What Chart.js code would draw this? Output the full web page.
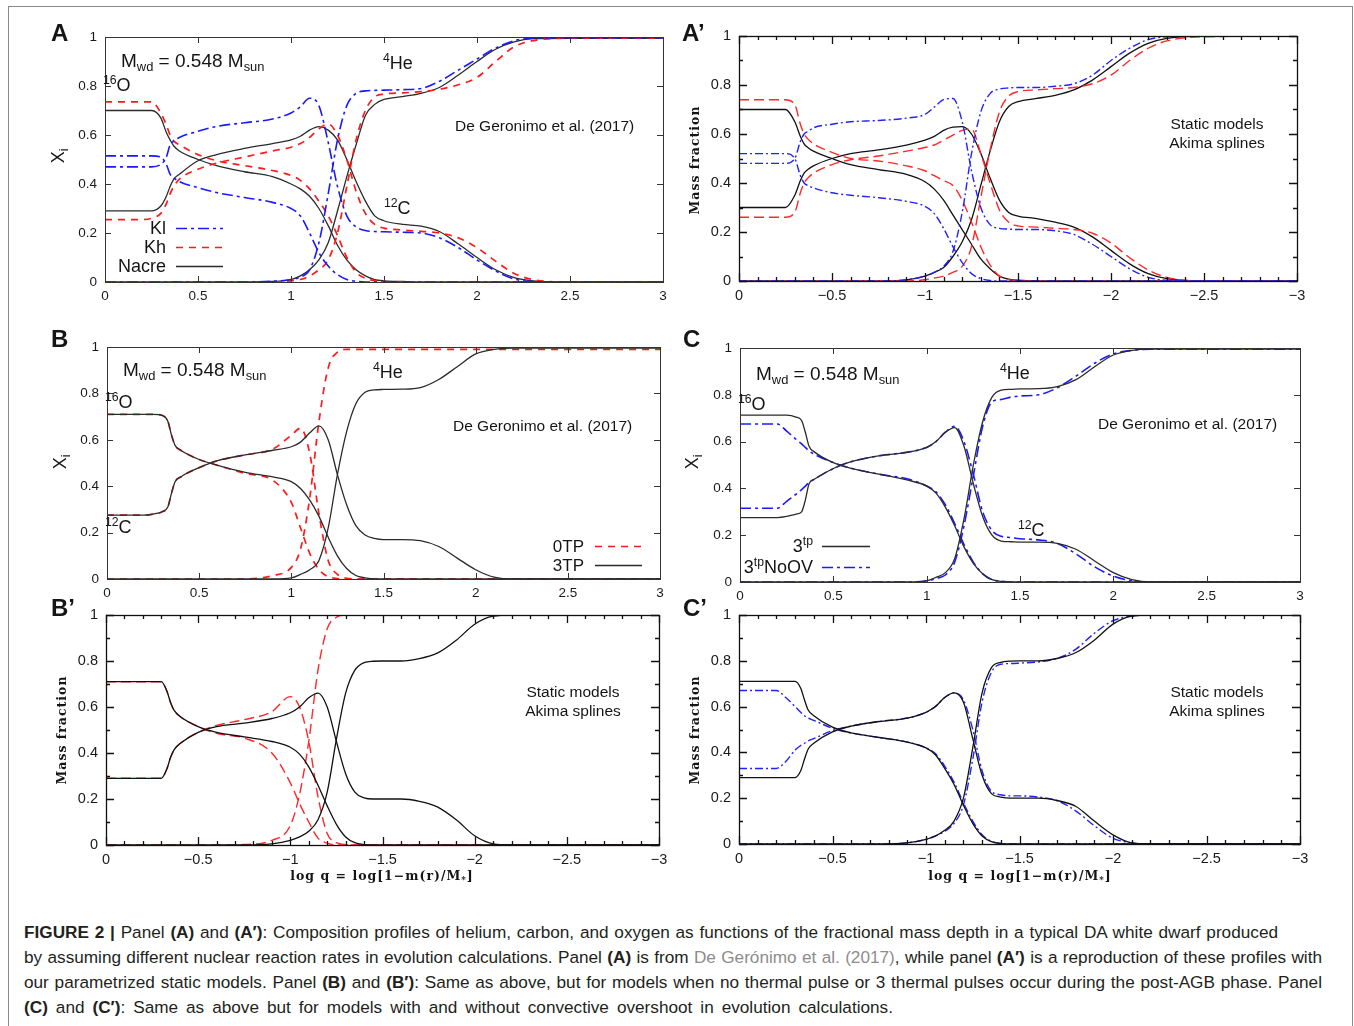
<!DOCTYPE html>
<html>
<head>
<meta charset="utf-8">
<script src="https://cdn.jsdelivr.net/npm/chart.js@4.4.1/dist/chart.umd.min.js"></script>
<style>
  body { margin: 0; background: #fff; width: 1354px; height: 1026px; overflow: hidden; position: relative;
         font-family: 'Liberation Sans', Arial, sans-serif; color: #151515; }
  #frame { position: absolute; left: 8px; top: 6px; width: 1343px; height: 1040px; border: 1px solid #8a8a8a; }
  canvas { position: absolute; }
  .t { position: absolute; white-space: nowrap; line-height: 1; transform: translateY(-50%); }
  .r { transform: translate(-100%, -50%); }
  .c { transform: translate(-50%, -50%); }
  .rot { transform: translate(-50%, -50%) rotate(-90deg); }
  .b { font-weight: bold; }
  .sm { font-family: 'DejaVu Serif', serif; font-weight: bold; font-size: 12.5px; letter-spacing: 1px; }
  sub, sup { font-size: 0.68em; position: relative; vertical-align: baseline; line-height: 0; }
  sub { top: 0.32em; }
  sup { top: -0.55em; }
  .cap { position: absolute; left: 24px; font-size: 17.2px; line-height: 20px; height: 20px; color: #231f20;
         text-align: justify; text-align-last: justify; transform: translateY(-50%); }
  .cap b { font-weight: bold; }
  .link { color: #8c8c8c; }
</style>
</head>
<body>
<div id="frame"></div>

<canvas id="cA"></canvas>
<canvas id="cAp"></canvas>
<canvas id="cB"></canvas>
<canvas id="cC"></canvas>
<canvas id="cBp"></canvas>
<canvas id="cCp"></canvas>

<!-- panel A -->
<div class="t b" style="left:51px;top:33px;font-size:24px">A</div>
<div class="t rot" style="left:58px;top:156px;font-size:18px">X<sub>i</sub></div>
<div class="t" style="left:121px;top:60px;font-size:19px">M<sub>wd</sub> = 0.548 M<sub>sun</sub></div>
<div class="t" style="left:103px;top:85px;font-size:18px"><sup>16</sup>O</div>
<div class="t" style="left:383px;top:63px;font-size:18px"><sup>4</sup>He</div>
<div class="t" style="left:455px;top:126px;font-size:15.5px">De Geronimo et al. (2017)</div>
<div class="t" style="left:384px;top:208px;font-size:18px"><sup>12</sup>C</div>
<div class="t r" style="left:166px;top:228px;font-size:18px">Kl</div>
<div class="t r" style="left:166px;top:247px;font-size:18px">Kh</div>
<div class="t r" style="left:166px;top:266px;font-size:18px">Nacre</div>

<!-- panel A' -->
<div class="t b" style="left:682px;top:33px;font-size:24px">A’</div>
<div class="t rot sm" style="left:695px;top:160px">Mass fraction</div>
<div class="t c" style="left:1217px;top:124px;font-size:15.5px">Static models</div>
<div class="t c" style="left:1217px;top:143px;font-size:15.5px">Akima splines</div>

<!-- panel B -->
<div class="t b" style="left:51px;top:339px;font-size:24px">B</div>
<div class="t rot" style="left:60px;top:462px;font-size:18px">X<sub>i</sub></div>
<div class="t" style="left:123px;top:369px;font-size:19px">M<sub>wd</sub> = 0.548 M<sub>sun</sub></div>
<div class="t" style="left:373px;top:372px;font-size:18px"><sup>4</sup>He</div>
<div class="t" style="left:105px;top:402px;font-size:18px"><sup>16</sup>O</div>
<div class="t" style="left:105px;top:527px;font-size:18px"><sup>12</sup>C</div>
<div class="t" style="left:453px;top:426px;font-size:15.5px">De Geronimo et al. (2017)</div>
<div class="t r" style="left:584px;top:546px;font-size:17px">0TP</div>
<div class="t r" style="left:584px;top:565px;font-size:17px">3TP</div>

<!-- panel C -->
<div class="t b" style="left:683px;top:339px;font-size:24px">C</div>
<div class="t rot" style="left:692px;top:462px;font-size:18px">X<sub>i</sub></div>
<div class="t" style="left:756px;top:373px;font-size:19px">M<sub>wd</sub> = 0.548 M<sub>sun</sub></div>
<div class="t" style="left:1000px;top:373px;font-size:18px"><sup>4</sup>He</div>
<div class="t" style="left:738px;top:404px;font-size:18px"><sup>16</sup>O</div>
<div class="t" style="left:1098px;top:424px;font-size:15.5px">De Geronimo et al. (2017)</div>
<div class="t" style="left:1018px;top:530px;font-size:18px"><sup>12</sup>C</div>
<div class="t r" style="left:813px;top:546px;font-size:18px">3<sup>tp</sup></div>
<div class="t r" style="left:813px;top:567px;font-size:18px">3<sup>tp</sup>NoOV</div>

<!-- panel B' -->
<div class="t b" style="left:51px;top:608px;font-size:24px">B’</div>
<div class="t rot sm" style="left:62px;top:730px">Mass fraction</div>
<div class="t c" style="left:573px;top:692px;font-size:15.5px">Static models</div>
<div class="t c" style="left:573px;top:711px;font-size:15.5px">Akima splines</div>
<div class="t c sm" style="left:382px;top:876px">log q = log[1−m(r)/M<sub>*</sub>]</div>

<!-- panel C' -->
<div class="t b" style="left:683px;top:608px;font-size:24px">C’</div>
<div class="t rot sm" style="left:695px;top:730px">Mass fraction</div>
<div class="t c" style="left:1217px;top:692px;font-size:15.5px">Static models</div>
<div class="t c" style="left:1217px;top:711px;font-size:15.5px">Akima splines</div>
<div class="t c sm" style="left:1020px;top:876px">log q = log[1−m(r)/M<sub>*</sub>]</div>

<!-- caption -->
<div class="cap" style="top:932px;width:1254px"><b>FIGURE 2 |</b> Panel <b>(A)</b> and <b>(A′)</b>: Composition profiles of helium, carbon, and oxygen as functions of the fractional mass depth in a typical DA white dwarf produced</div>
<div class="cap" style="top:957px;width:1298px">by assuming different nuclear reaction rates in evolution calculations. Panel <b>(A)</b> is from <span class="link">De Gerónimo et al. (2017)</span>, while panel <b>(A′)</b> is a reproduction of these profiles with</div>
<div class="cap" style="top:982px;width:1298px">our parametrized static models. Panel <b>(B)</b> and <b>(B′)</b>: Same as above, but for models when no thermal pulse or 3 thermal pulses occur during the post-AGB phase. Panel</div>
<div class="cap" style="top:1007px;width:869px"><b>(C)</b> and <b>(C′)</b>: Same as above but for models with and without convective overshoot in evolution calculations.</div>

<script>
// depth grid, log q (positive; primed panels plot it as negative)
const logq = [0, 0.2, 0.25, 0.3, 0.33, 0.35, 0.37, 0.4, 0.5, 0.6, 0.75, 0.9, 1.0, 1.05, 1.1, 1.15, 1.2, 1.25, 1.3, 1.35,
              1.4, 1.45, 1.5, 1.6, 1.7, 1.8, 1.9, 2.0, 2.1, 2.2, 2.3, 2.5, 3.0];
const xTickVals = [0, 0.5, 1, 1.5, 2, 2.5, 3];
const yTickVals = [0, 0.2, 0.4, 0.6, 0.8, 1];

// panel A (De Geronimo 2017): Nacre, Kl, Kh
const aNacreO  = [0.70,0.70,0.70,0.67,0.61,0.58,0.555,0.535,0.50,0.475,0.45,0.43,0.40,0.38,0.35,0.30,0.23,0.15,0.09,0.05,0.025,0.01,0.005,0.002,0,0,0,0,0,0,0,0,0];
const aNacreC  = [0.29,0.29,0.29,0.31,0.35,0.39,0.42,0.44,0.495,0.52,0.545,0.565,0.58,0.595,0.62,0.634,0.62,0.58,0.50,0.41,0.33,0.27,0.25,0.235,0.228,0.205,0.155,0.10,0.05,0.018,0.005,0,0];
const aNacreHe = [0,0,0,0,0,0,0,0,0,0,0,0.002,0.01,0.025,0.05,0.09,0.16,0.29,0.43,0.56,0.68,0.725,0.745,0.757,0.77,0.795,0.845,0.90,0.95,0.98,0.993,0.995,0.995];
const aKlO  = [0.515,0.515,0.515,0.51,0.48,0.44,0.425,0.41,0.385,0.365,0.345,0.325,0.30,0.27,0.20,0.12,0.065,0.03,0.01,0.003,0,0,0,0,0,0,0,0,0,0,0,0,0];
const aKlC  = [0.47,0.47,0.47,0.48,0.51,0.56,0.575,0.59,0.615,0.635,0.65,0.665,0.69,0.715,0.75,0.72,0.57,0.39,0.27,0.225,0.21,0.206,0.205,0.203,0.20,0.18,0.14,0.09,0.045,0.012,0.002,0,0];
const aKlHe = [0,0,0,0,0,0,0,0,0,0,0,0.003,0.01,0.02,0.05,0.16,0.36,0.58,0.72,0.77,0.78,0.782,0.783,0.785,0.79,0.82,0.865,0.91,0.955,0.985,0.995,0.997,0.997];
const aKhO  = [0.735,0.735,0.735,0.69,0.64,0.60,0.575,0.56,0.52,0.495,0.475,0.455,0.435,0.415,0.38,0.33,0.27,0.19,0.10,0.04,0.015,0.005,0.002,0,0,0,0,0,0,0,0,0,0];
const aKhC  = [0.255,0.255,0.26,0.28,0.32,0.36,0.39,0.42,0.46,0.485,0.51,0.535,0.55,0.565,0.59,0.625,0.645,0.60,0.50,0.37,0.28,0.235,0.22,0.212,0.207,0.20,0.18,0.14,0.085,0.035,0.01,0,0];
const aKhHe = [0,0,0,0,0,0,0,0,0,0,0,0,0.005,0.01,0.025,0.05,0.09,0.20,0.39,0.58,0.70,0.755,0.767,0.772,0.777,0.787,0.805,0.835,0.90,0.96,0.985,0.995,0.995];

// panel A' (static models)
const apNacreO  = [0.70,0.70,0.70,0.65,0.59,0.56,0.545,0.53,0.50,0.475,0.455,0.435,0.405,0.375,0.33,0.27,0.21,0.15,0.09,0.05,0.02,0.008,0.003,0,0,0,0,0,0,0,0,0,0];
const apNacreC  = [0.30,0.30,0.30,0.35,0.41,0.44,0.455,0.47,0.50,0.52,0.535,0.555,0.575,0.59,0.615,0.628,0.63,0.60,0.52,0.42,0.33,0.28,0.265,0.255,0.24,0.22,0.18,0.125,0.07,0.03,0.01,0,0];
const apNacreHe = [0,0,0,0,0,0,0,0,0,0,0,0.005,0.02,0.035,0.055,0.10,0.16,0.25,0.39,0.53,0.65,0.712,0.732,0.745,0.758,0.78,0.82,0.875,0.93,0.97,0.99,1.0,1.0];
const apKlO  = [0.52,0.52,0.52,0.50,0.43,0.40,0.39,0.38,0.36,0.35,0.34,0.325,0.305,0.275,0.215,0.14,0.075,0.03,0.01,0.002,0,0,0,0,0,0,0,0,0,0,0,0,0];
const apKlC  = [0.48,0.48,0.48,0.50,0.57,0.60,0.61,0.625,0.64,0.65,0.655,0.665,0.68,0.71,0.74,0.745,0.65,0.45,0.30,0.23,0.215,0.212,0.21,0.21,0.205,0.19,0.15,0.10,0.05,0.015,0.003,0,0];
const apKlHe = [0,0,0,0,0,0,0,0,0,0,0,0.005,0.02,0.035,0.06,0.12,0.28,0.52,0.69,0.765,0.783,0.788,0.79,0.79,0.795,0.805,0.84,0.90,0.95,0.985,0.997,1.0,1.0];
const apKhO  = [0.74,0.74,0.74,0.72,0.64,0.60,0.58,0.56,0.525,0.50,0.49,0.47,0.45,0.43,0.41,0.39,0.33,0.24,0.14,0.065,0.02,0.005,0,0,0,0,0,0,0,0,0,0,0];
const apKhC  = [0.26,0.26,0.26,0.28,0.36,0.40,0.42,0.44,0.475,0.495,0.51,0.53,0.545,0.555,0.575,0.595,0.615,0.62,0.52,0.40,0.29,0.24,0.225,0.22,0.215,0.21,0.195,0.155,0.095,0.045,0.015,0,0];
const apKhHe = [0,0,0,0,0,0,0,0,0,0,0,0,0.005,0.012,0.02,0.035,0.06,0.14,0.34,0.535,0.69,0.755,0.773,0.78,0.785,0.79,0.805,0.84,0.90,0.95,0.98,0.997,1.0];

// panel B: 3TP and 0TP
const b3O  = [0.71,0.71,0.71,0.705,0.68,0.62,0.575,0.555,0.515,0.49,0.46,0.44,0.42,0.39,0.34,0.27,0.18,0.10,0.045,0.015,0.005,0,0,0,0,0,0,0,0,0,0,0,0];
const b3C  = [0.275,0.275,0.28,0.29,0.31,0.37,0.42,0.44,0.48,0.51,0.535,0.555,0.57,0.59,0.63,0.66,0.60,0.45,0.32,0.23,0.19,0.175,0.17,0.17,0.165,0.14,0.09,0.04,0.008,0,0,0,0];
const b3He = [0,0,0,0,0,0,0,0,0,0,0,0,0.005,0.02,0.04,0.08,0.22,0.45,0.635,0.755,0.805,0.815,0.817,0.818,0.825,0.86,0.915,0.97,0.99,0.995,0.995,0.995,0.995];
const b0O  = [0.71,0.71,0.71,0.705,0.68,0.62,0.575,0.555,0.515,0.49,0.455,0.425,0.33,0.22,0.11,0.04,0.01,0.002,0,0,0,0,0,0,0,0,0,0,0,0,0,0,0];
const b0C  = [0.275,0.275,0.28,0.29,0.31,0.37,0.42,0.44,0.48,0.51,0.535,0.56,0.62,0.65,0.54,0.28,0.08,0.02,0.003,0,0,0,0,0,0,0,0,0,0,0,0,0,0];
const b0He = [0,0,0,0,0,0,0,0,0,0,0,0.015,0.05,0.13,0.35,0.68,0.91,0.978,0.99,0.99,0.99,0.99,0.99,0.99,0.99,0.99,0.99,0.99,0.99,0.99,0.99,0.99,0.99];

// panel C: 3tp and 3tp NoOV
const c3O   = [0.713,0.713,0.713,0.705,0.69,0.64,0.58,0.555,0.51,0.485,0.46,0.435,0.41,0.38,0.32,0.24,0.15,0.08,0.035,0.01,0.003,0,0,0,0,0,0,0,0,0,0,0,0];
const c3C   = [0.275,0.275,0.28,0.29,0.30,0.35,0.42,0.44,0.485,0.515,0.54,0.555,0.575,0.60,0.64,0.66,0.58,0.42,0.28,0.20,0.175,0.172,0.17,0.17,0.165,0.14,0.09,0.04,0.01,0,0,0,0];
const c3He  = [0,0,0,0,0,0,0,0,0,0,0,0,0.005,0.02,0.04,0.10,0.27,0.50,0.685,0.79,0.82,0.823,0.825,0.826,0.835,0.865,0.92,0.97,0.99,0.995,0.995,0.995,0.995];
const cNoO  = [0.675,0.675,0.645,0.61,0.59,0.575,0.56,0.545,0.51,0.485,0.46,0.44,0.41,0.385,0.33,0.25,0.16,0.085,0.035,0.01,0.003,0,0,0,0,0,0,0,0,0,0,0,0];
const cNoC  = [0.315,0.315,0.345,0.375,0.395,0.41,0.425,0.44,0.485,0.515,0.54,0.555,0.575,0.60,0.64,0.665,0.60,0.46,0.30,0.22,0.195,0.19,0.185,0.18,0.165,0.12,0.065,0.025,0.005,0,0,0,0];
const cNoHe = [0,0,0,0,0,0,0,0,0,0,0,0,0.005,0.015,0.03,0.085,0.24,0.455,0.665,0.77,0.78,0.79,0.795,0.80,0.83,0.88,0.935,0.975,0.99,0.995,0.995,0.995,0.995];

// panel B' (static models)
const bp3O  = [0.71,0.71,0.71,0.71,0.67,0.62,0.585,0.56,0.515,0.49,0.47,0.45,0.425,0.395,0.34,0.26,0.17,0.09,0.035,0.01,0.002,0,0,0,0,0,0,0,0,0,0,0,0];
const bp3C  = [0.29,0.29,0.29,0.29,0.33,0.38,0.415,0.44,0.49,0.515,0.53,0.55,0.575,0.60,0.64,0.66,0.60,0.45,0.31,0.23,0.205,0.20,0.20,0.20,0.19,0.165,0.11,0.04,0.005,0,0,0,0];
const bp3He = [0,0,0,0,0,0,0,0,0,0,0,0.005,0.02,0.035,0.06,0.11,0.23,0.46,0.66,0.76,0.793,0.799,0.80,0.80,0.81,0.835,0.89,0.96,0.995,1.0,1.0,1.0,1.0];
const bp0O  = [0.71,0.71,0.71,0.71,0.67,0.62,0.585,0.56,0.515,0.485,0.465,0.40,0.27,0.18,0.10,0.03,0.008,0,0,0,0,0,0,0,0,0,0,0,0,0,0,0,0];
const bp0C  = [0.29,0.29,0.29,0.29,0.33,0.38,0.415,0.44,0.49,0.52,0.545,0.58,0.645,0.60,0.45,0.21,0.05,0.01,0.002,0,0,0,0,0,0,0,0,0,0,0,0,0,0];
const bp0He = [0,0,0,0,0,0,0,0,0,0,0.002,0.02,0.085,0.22,0.45,0.76,0.94,0.99,1.0,1.0,1.0,1.0,1.0,1.0,1.0,1.0,1.0,1.0,1.0,1.0,1.0,1.0,1.0];

// panel C' (static models)
const cp3O   = [0.71,0.71,0.71,0.71,0.68,0.63,0.585,0.56,0.51,0.485,0.465,0.445,0.42,0.39,0.33,0.26,0.17,0.09,0.035,0.01,0.002,0,0,0,0,0,0,0,0,0,0,0,0];
const cp3C   = [0.29,0.29,0.29,0.29,0.32,0.37,0.415,0.44,0.49,0.515,0.535,0.55,0.575,0.60,0.64,0.66,0.62,0.46,0.30,0.22,0.205,0.20,0.20,0.20,0.19,0.165,0.10,0.04,0.005,0,0,0,0];
const cp3He  = [0,0,0,0,0,0,0,0,0,0,0,0.005,0.02,0.035,0.06,0.10,0.20,0.42,0.66,0.77,0.793,0.799,0.80,0.80,0.81,0.835,0.89,0.96,0.995,1.0,1.0,1.0,1.0];
const cpNoO  = [0.67,0.67,0.64,0.60,0.575,0.56,0.55,0.54,0.505,0.485,0.465,0.445,0.42,0.395,0.34,0.27,0.18,0.10,0.04,0.012,0.003,0,0,0,0,0,0,0,0,0,0,0,0];
const cpNoC  = [0.33,0.33,0.36,0.41,0.43,0.44,0.45,0.46,0.495,0.515,0.535,0.55,0.575,0.60,0.64,0.66,0.63,0.50,0.32,0.23,0.215,0.21,0.21,0.205,0.19,0.145,0.08,0.025,0.005,0,0,0,0];
const cpNoHe = [0,0,0,0,0,0,0,0,0,0,0,0.005,0.02,0.035,0.055,0.09,0.17,0.37,0.62,0.75,0.785,0.788,0.79,0.795,0.81,0.85,0.92,0.975,0.995,1.0,1.0,1.0,1.0];

// plot frames on the page (pixels)
const boxes = {
  A:  { L: 105, T: 37,  R: 663,  B: 282 },
  Ap: { L: 739, T: 36,  R: 1297, B: 281 },
  B:  { L: 107, T: 347, R: 660,  B: 579 },
  C:  { L: 740, T: 348, R: 1300, B: 582 },
  Bp: { L: 106, T: 615, R: 659,  B: 845 },
  Cp: { L: 739, T: 615, R: 1300, B: 844 }
};
const YW = 52, XH = 24, PT = 18, PR = 16;

// gnuplot-like panels vs the static-model (SM) panels
const GNU = {
  black: { color: '#2b2b2b', width: 1.3, dash: [] },
  red:   { color: '#ff1a1a', width: 1.7, dash: [7, 6] },
  blue:  { color: '#1a1aff', width: 1.6, dash: [11, 4, 3, 4] },
  frame: '#333', frameW: 1, major: 6, minor: 6, xMinor: 0.5, yMinor: 0.2, font: 13.5
};
const SM = {
  black: { color: '#111', width: 1.3, dash: [] },
  red:   { color: '#ff2828', width: 1.4, dash: [10, 5] },
  blue:  { color: '#2222ff', width: 1.4, dash: [8, 3, 2, 3] },
  frame: '#111', frameW: 1.3, major: 8, minor: 4, xMinor: 0.1, yMinor: 0.1, font: 14.5
};

function fmt(v) {
  const r = Math.round(v * 10) / 10;
  return r < 0 ? '\u2212' + String(-r) : String(r);
}

// frame, inward ticks on all four sides, and legend samples
const axesFrame = {
  id: 'axesFrame',
  afterDatasetsDraw(chart, args, o) {
    const { ctx, chartArea: a } = chart;
    const xs = chart.scales.x, ys = chart.scales.y;
    ctx.save();
    ctx.strokeStyle = o.frame;
    ctx.lineWidth = o.frameW;
    ctx.setLineDash([]);
    ctx.beginPath();
    const nx = Math.round(3 / o.xMinor);
    for (let i = 0; i <= nx; i++) {
      const v = xs.min + i * o.xMinor;
      const major = Math.abs(v / 0.5 - Math.round(v / 0.5)) < 1e-6;
      const len = major ? o.major : o.minor;
      const px = Math.round(xs.getPixelForValue(v)) + 0.5;
      ctx.moveTo(px, a.bottom); ctx.lineTo(px, a.bottom - len);
      ctx.moveTo(px, a.top); ctx.lineTo(px, a.top + len);
    }
    const ny = Math.round(1 / o.yMinor);
    for (let i = 0; i <= ny; i++) {
      const v = i * o.yMinor;
      const major = Math.abs(v / 0.2 - Math.round(v / 0.2)) < 1e-6;
      const len = major ? o.major : o.minor;
      const py = Math.round(ys.getPixelForValue(v)) + 0.5;
      ctx.moveTo(a.left, py); ctx.lineTo(a.left + len, py);
      ctx.moveTo(a.right, py); ctx.lineTo(a.right - len, py);
    }
    ctx.stroke();
    ctx.strokeRect(Math.round(a.left) + 0.5, Math.round(a.top) + 0.5,
                   Math.round(a.right - a.left), Math.round(a.bottom - a.top));
    (o.samples || []).forEach(s => {
      ctx.beginPath();
      ctx.strokeStyle = s.color;
      ctx.lineWidth = s.width;
      ctx.setLineDash(s.dash);
      ctx.moveTo(s.x0, s.y);
      ctx.lineTo(s.x1, s.y);
      ctx.stroke();
    });
    ctx.restore();
  }
};

function makeChart(id, box, series, st, primed, samples) {
  const c = document.getElementById(id);
  const left = box.L - YW, top = box.T - PT;
  const w = box.R - box.L + YW + PR, h = PT + box.B - box.T + XH;
  c.width = w; c.height = h;
  c.style.left = left + 'px'; c.style.top = top + 'px';
  c.style.width = w + 'px'; c.style.height = h + 'px';

  const datasets = series.map(s => ({
    data: logq.map((q, i) => ({ x: primed ? -q : q, y: s.y[i] })),
    borderColor: st[s.m].color,
    borderWidth: st[s.m].width,
    borderDash: st[s.m].dash,
    pointRadius: 0,
    fill: false,
    cubicInterpolationMode: 'monotone'
  }));

  const legendSamples = (samples || []).map(s => ({
    x0: s.x0 - left, x1: s.x1 - left, y: s.y - top + 0.5,
    color: st[s.m].color, width: st[s.m].width, dash: st[s.m].dash
  }));

  const tickFont = { family: "'Liberation Sans', Arial, sans-serif", size: st.font };
  new Chart(c, {
    type: 'line',
    data: { datasets },
    plugins: [axesFrame],
    options: {
      responsive: false,
      animation: false,
      layout: { padding: { top: PT, right: PR, left: 0, bottom: 0 } },
      plugins: {
        legend: { display: false },
        tooltip: { enabled: false },
        axesFrame: Object.assign({}, st, { samples: legendSamples })
      },
      scales: {
        x: {
          type: 'linear',
          min: primed ? -3 : 0,
          max: primed ? 0 : 3,
          reverse: primed,
          grid: { display: false, drawTicks: false },
          border: { display: false },
          afterBuildTicks: s => { s.ticks = xTickVals.map(v => ({ value: primed ? -v : v })); },
          afterFit: s => { s.height = XH; },
          ticks: { padding: 6, color: '#1a1a1a', font: tickFont, maxRotation: 0, autoSkip: false, callback: v => fmt(v) }
        },
        y: {
          type: 'linear',
          min: 0,
          max: 1,
          grid: { display: false, drawTicks: false },
          border: { display: false },
          afterBuildTicks: s => { s.ticks = yTickVals.map(v => ({ value: v })); },
          afterFit: s => { s.width = YW; },
          ticks: { padding: 8, color: '#1a1a1a', font: tickFont, autoSkip: false, callback: v => fmt(v) }
        }
      }
    }
  });
}

makeChart('cA', boxes.A, [
  { y: aKlO, m: 'blue' }, { y: aKlC, m: 'blue' }, { y: aKlHe, m: 'blue' },
  { y: aKhO, m: 'red' }, { y: aKhC, m: 'red' }, { y: aKhHe, m: 'red' },
  { y: aNacreO, m: 'black' }, { y: aNacreC, m: 'black' }, { y: aNacreHe, m: 'black' }
], GNU, false, [
  { x0: 176, x1: 223, y: 228, m: 'blue' },
  { x0: 176, x1: 223, y: 247, m: 'red' },
  { x0: 176, x1: 223, y: 266, m: 'black' }
]);

makeChart('cAp', boxes.Ap, [
  { y: apKlO, m: 'blue' }, { y: apKlC, m: 'blue' }, { y: apKlHe, m: 'blue' },
  { y: apKhO, m: 'red' }, { y: apKhC, m: 'red' }, { y: apKhHe, m: 'red' },
  { y: apNacreO, m: 'black' }, { y: apNacreC, m: 'black' }, { y: apNacreHe, m: 'black' }
], SM, true);

makeChart('cB', boxes.B, [
  { y: b3O, m: 'black' }, { y: b3C, m: 'black' }, { y: b3He, m: 'black' },
  { y: b0O, m: 'red' }, { y: b0C, m: 'red' }, { y: b0He, m: 'red' }
], GNU, false, [
  { x0: 595, x1: 642, y: 546, m: 'red' },
  { x0: 595, x1: 642, y: 565, m: 'black' }
]);

makeChart('cC', boxes.C, [
  { y: c3O, m: 'black' }, { y: c3C, m: 'black' }, { y: c3He, m: 'black' },
  { y: cNoO, m: 'blue' }, { y: cNoC, m: 'blue' }, { y: cNoHe, m: 'blue' }
], GNU, false, [
  { x0: 822, x1: 870, y: 546, m: 'black' },
  { x0: 822, x1: 870, y: 567, m: 'blue' }
]);

makeChart('cBp', boxes.Bp, [
  { y: bp3O, m: 'black' }, { y: bp3C, m: 'black' }, { y: bp3He, m: 'black' },
  { y: bp0O, m: 'red' }, { y: bp0C, m: 'red' }, { y: bp0He, m: 'red' }
], SM, true);

makeChart('cCp', boxes.Cp, [
  { y: cp3O, m: 'black' }, { y: cp3C, m: 'black' }, { y: cp3He, m: 'black' },
  { y: cpNoO, m: 'blue' }, { y: cpNoC, m: 'blue' }, { y: cpNoHe, m: 'blue' }
], SM, true);
</script>
</body>
</html>
